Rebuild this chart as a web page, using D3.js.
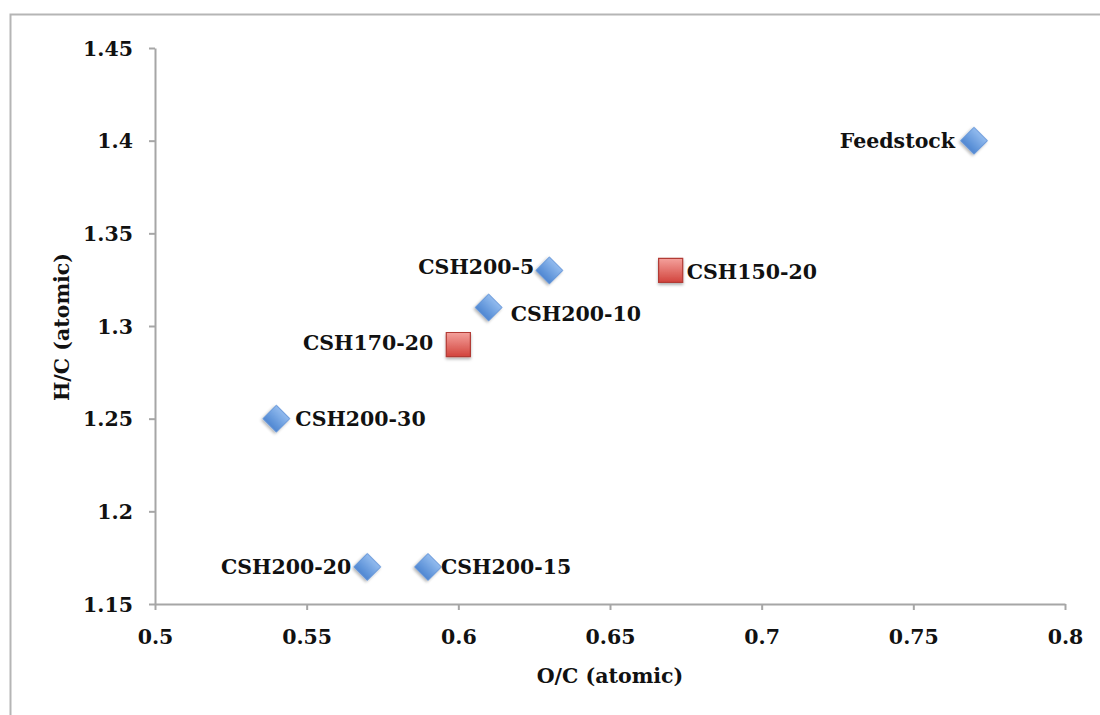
<!DOCTYPE html>
<html><head><meta charset="utf-8">
<script src="https://cdn.jsdelivr.net/npm/d3@7"></script>
<style>body{margin:0;background:#fff}svg{display:block}</style>
</head><body>
<svg id="chart" width="1100" height="715"></svg>
<script>
// Data
const names = ["Feedstock","CSH200-5","CSH200-10","CSH200-15","CSH200-20","CSH200-30","CSH150-20","CSH170-20"];
const ocValues = [0.77,0.63,0.61,0.59,0.57,0.54,0.67,0.60];
const hcValues = [1.40,1.33,1.31,1.17,1.17,1.25,1.33,1.29];
const seriesOf = ["diamond","diamond","diamond","diamond","diamond","diamond","square","square"];
const xTicks = [0.5,0.55,0.6,0.65,0.7,0.75,0.8];
const yTicks = [1.15,1.2,1.25,1.3,1.35,1.4,1.45];
const xTitle = "O/C (atomic)";
const yTitle = "H/C (atomic)";

const svg = d3.select("#chart");
const font = "'DejaVu Serif', serif";
const fs = "20.5px";
const axisColor = "#a6a6a6";

// Outer frame
svg.append("path").attr("d","M10.5,715 V14.5 H1100").attr("fill","none").attr("stroke","#b5b5b5").attr("stroke-width",2);

const x = d3.scaleLinear().domain([0.5,0.8]).range([155,1065]);
const y = d3.scaleLinear().domain([1.15,1.45]).range([604,48]);

const defs = svg.append("defs");
const gb = defs.append("linearGradient").attr("id","gBlue").attr("x1",0).attr("y1",0).attr("x2",0).attr("y2",1);
gb.append("stop").attr("offset","0%").attr("stop-color","#92bbee");
gb.append("stop").attr("offset","100%").attr("stop-color","#4f87d2");
const gr = defs.append("linearGradient").attr("id","gRed").attr("x1",0).attr("y1",0).attr("x2",0).attr("y2",1);
gr.append("stop").attr("offset","0%").attr("stop-color","#f4a19c");
gr.append("stop").attr("offset","100%").attr("stop-color","#d2443d");
const f = defs.append("filter").attr("id","sh").attr("x","-50%").attr("y","-50%").attr("width","200%").attr("height","200%");
f.append("feDropShadow").attr("dx",0).attr("dy",2).attr("stdDeviation",1.5).attr("flood-color","#000").attr("flood-opacity",0.3);

// Axes
const xAxis = d3.axisBottom(x).tickValues(xTicks).tickFormat(d3.format("")).tickSize(6).tickSizeOuter(0).tickPadding(19);
const gx = svg.append("g").attr("transform","translate(0,604)").call(xAxis);
const yAxis = d3.axisLeft(y).tickValues(yTicks).tickFormat(d3.format("")).tickSize(6).tickSizeOuter(0).tickPadding(16);
const gy = svg.append("g").attr("transform","translate(155,0)").call(yAxis);
[gx,gy].forEach(g=>{
  g.select(".domain").attr("stroke",axisColor).attr("stroke-width",2);
  g.selectAll(".tick line").attr("stroke",axisColor).attr("stroke-width",2);
  g.selectAll(".tick text").attr("fill","#111").style("font-family",font).style("font-weight","bold").style("font-size",fs);
});
gy.selectAll(".tick text").attr("dy","0.35em");

svg.append("text").attr("x",610).attr("y",683).attr("text-anchor","middle")
  .style("font-family",font).style("font-weight","bold").style("font-size",fs).attr("fill","#111").text(xTitle);
svg.append("text").attr("transform","translate(69,327) rotate(-90)").attr("text-anchor","middle")
  .style("font-family",font).style("font-weight","bold").style("font-size",fs).attr("fill","#111").text(yTitle);

// Points
const pts = names.map((n,i)=>({name:n,oc:ocValues[i],hc:hcValues[i],s:seriesOf[i]}));
const diamond = d3.symbol().type(d3.symbolSquare).size(360);
const square = d3.symbol().type(d3.symbolSquare).size(580);
svg.append("g").selectAll("path").data(pts).join("path")
  .attr("transform",d=>`translate(${x(d.oc)},${y(d.hc)})` + (d.s==="diamond"?" rotate(45)":""))
  .attr("d",d=>d.s==="diamond"?diamond():square())
  .attr("fill",d=>d.s==="diamond"?"url(#gBlue)":"url(#gRed)")
  .attr("stroke",d=>d.s==="diamond"?"#5b8fd6":"#b23a34")
  .attr("stroke-width",d=>d.s==="diamond"?0.8:1.2)
  .attr("filter","url(#sh)");

// Labels
const labelPos = {
  "Feedstock":[-19,0,"end"],
  "CSH200-5":[-15,-4,"end"],
  "CSH200-10":[22,6,"start"],
  "CSH200-15":[13,0,"start"],
  "CSH200-20":[-16,0,"end"],
  "CSH200-30":[19,0,"start"],
  "CSH150-20":[16,1,"start"],
  "CSH170-20":[-25,-2,"end"]
};
svg.append("g").selectAll("text").data(pts).join("text")
  .attr("x",d=>x(d.oc)+labelPos[d.name][0])
  .attr("y",d=>y(d.hc)+labelPos[d.name][1])
  .attr("dy","0.35em")
  .attr("text-anchor",d=>labelPos[d.name][2])
  .style("font-family",font).style("font-weight","bold").style("font-size",fs).attr("fill","#111")
  .text(d=>d.name);
</script>
</body></html>
